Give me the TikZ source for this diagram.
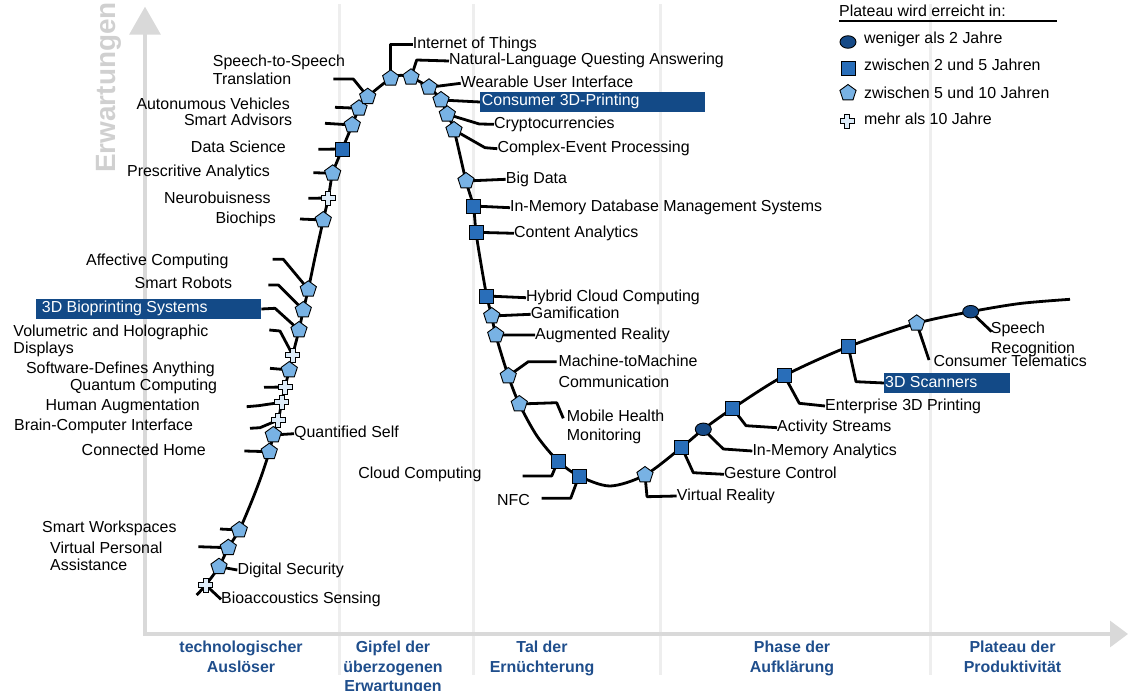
\documentclass[tikz,border=0pt]{standalone}
\usepackage{fontspec}
\setmainfont{Liberation Sans}
\usepackage{tikz}
\usetikzlibrary{arrows.meta, shapes.geometric, backgrounds}

\definecolor{circblue}{RGB}{22,74,135}
\definecolor{sqblue}{RGB}{41,110,185}
\definecolor{pentblue}{RGB}{120,178,228}
\definecolor{plusblue}{RGB}{220,235,248}
\definecolor{boxblue}{RGB}{19,74,135}
\definecolor{phaseblue}{RGB}{31,78,140}
\definecolor{axisgray}{RGB}{217,217,217}
\definecolor{sepgray}{RGB}{238,238,238}
\definecolor{titlegray}{RGB}{208,208,208}

\begin{document}
\begin{tikzpicture}[x=1bp, y=-1bp, font=\fontsize{16}{18.5}\selectfont,
        lbl/.style={inner sep=0pt, text height=11.5bp, text depth=3.5bp},
        mlbl/.style={inner sep=0pt, align=left, anchor=north west},
        lead/.style={line width=2.8bp, line join=round},
        mcirc/.style={ellipse, draw, line width=0.9bp, fill=circblue, minimum width=16bp, minimum height=12.5bp, inner sep=0pt},
        msq/.style={rectangle, draw, line width=0.9bp, fill=sqblue, minimum size=14bp, inner sep=0pt},
        mpent/.style={regular polygon, regular polygon sides=5, draw, line width=0.9bp, fill=pentblue, minimum size=17bp, inner sep=0pt},
        mplus/.style={rectangle, minimum size=17bp, inner sep=0pt,
            path picture={\draw[fill=plusblue, line width=0.9bp, shift={(path picture bounding box.center)}]
                (-2.6bp,-7bp) -- (2.6bp,-7bp) -- (2.6bp,-2.6bp) -- (7bp,-2.6bp) -- (7bp,2.6bp) -- (2.6bp,2.6bp)
                -- (2.6bp,7bp) -- (-2.6bp,7bp) -- (-2.6bp,2.6bp) -- (-7bp,2.6bp) -- (-7bp,-2.6bp) -- (-2.6bp,-2.6bp) -- cycle;}},
        hbox/.style={fill=boxblue, minimum height=19.4bp, inner sep=0pt, anchor=west},
        phase/.style={anchor=north, align=center, inner sep=0pt, text=phaseblue, font=\fontsize{16}{19.5}\selectfont\bfseries}]
    \useasboundingbox (0,0) rectangle (1128,691);

    % axis title and phases
    \node[rotate=90, anchor=base west, inner sep=0pt, text=titlegray, font=\fontsize{28}{30}\selectfont\bfseries] (ytitle) at (115,173) {Erwartungen};
    \node[phase] (ph1) at (241,641) {technologischer\\Auslöser};
    \node[phase] (ph2) at (393,641) {Gipfel der\\überzogenen\\Erwartungen};
    \node[phase] (ph3) at (542,641) {Tal der\\Ernüchterung};
    \node[phase] (ph4) at (792,641) {Phase der\\Aufklärung};
    \node[phase] (ph5) at (1012.5,641) {Plateau der\\Produktivität};

    % legend
    \node[lbl, anchor=base west] (legt) at (839,16.7) {Plateau wird erreicht in:};
    \draw[line width=1.6bp] ([yshift=-4.3bp]legt.base west) -- ++(218,0);
    \node[mcirc] (leg1) at (848,42) {};
    \node[msq] (leg2) at (848,68) {};
    \node[mpent] (leg3) at (848,93) {};
    \node[mplus] (leg4) at (847,121) {};
    \node[lbl, anchor=base west] (legl1) at (864,44) {weniger als 2 Jahre};
    \node[lbl, anchor=base west] (legl2) at (864,71) {zwischen 2 und 5 Jahren};
    \node[lbl, anchor=base west] (legl3) at (864,98.3) {zwischen 5 und 10 Jahren};
    \node[lbl, anchor=base west] (legl4) at (864,125) {mehr als 10 Jahre};

    % markers on the curve
    \coordinate (cstart) at (196.7,595);
    \node[mplus] (bas-m) at (205.7,585) {};
    \node[mpent] (dsec-m) at (219,566.7) {};
    \node[mpent] (vpa-m) at (228.3,547.7) {};
    \node[mpent] (sw-m) at (239.3,530) {};
    \node[mpent] (ch-m) at (269.3,451.7) {};
    \node[mpent] (qs-m) at (273.3,435) {};
    \node[mplus] (bci-m) at (278.3,420) {};
    \node[mplus] (ha-m) at (281.7,402.3) {};
    \node[mplus] (qc-m) at (285,387) {};
    \node[mpent] (sda-m) at (289.3,370) {};
    \node[mplus] (vol-m) at (292.7,355) {};
    \node[mpent] (bio-m) at (299,330) {};
    \node[mpent] (sr-m) at (303.3,310) {};
    \node[mpent] (ac-m) at (308.3,289.3) {};
    \node[mpent] (bc-m) at (323.3,220) {};
    \node[mplus] (nb-m) at (328.3,198) {};
    \node[mpent] (pa-m) at (332.7,173.3) {};
    \node[msq] (ds-m) at (342.3,149) {};
    \node[mpent] (sa-m) at (352.3,125) {};
    \node[mpent] (av-m) at (359,108.3) {};
    \node[mpent] (sts-m) at (367.7,96.7) {};
    \node[mpent] (iot-m) at (390.7,78.3) {};
    \node[mpent] (nl-m) at (411,77.3) {};
    \node[mpent] (wui-m) at (429,87.3) {};
    \node[mpent] (c3d-m) at (441,100) {};
    \node[mpent] (cc-m) at (447.3,114.3) {};
    \node[mpent] (cep-m) at (454,130) {};
    \node[mpent] (bd-m) at (466,181) {};
    \node[msq] (imdb-m) at (473.3,206) {};
    \node[msq] (ca-m) at (476,232.3) {};
    \node[msq] (hcc-m) at (486.7,296) {};
    \node[mpent] (gam-m) at (491.7,316) {};
    \node[mpent] (ar-m) at (495.7,335) {};
    \node[mpent] (m2m-m) at (508.3,376) {};
    \node[mpent] (mhm-m) at (519.3,404) {};
    \node[msq] (clc-m) at (558,461) {};
    \node[msq] (nfc-m) at (579,476) {};
    \node[mpent] (vr-m) at (645,475) {};
    \node[msq] (gc-m) at (681.7,447.3) {};
    \node[mcirc] (ima-m) at (703.3,429.3) {};
    \node[msq] (as-m) at (732.7,408.3) {};
    \node[msq] (e3d-m) at (784.3,375.7) {};
    \node[msq] (s3d-m) at (848.3,346.7) {};
    \node[mpent] (ct-m) at (916.7,323.3) {};
    \node[mcirc] (spr-m) at (970.7,311.7) {};
    \coordinate (cend) at (1070,299.3);

    % labels, left side
    \node[mlbl, font=\fontsize{16}{18.3}\selectfont] (sts) at (212.7,55) {Speech-to-Speech\\Translation};
    \node[lbl, anchor=base east] (av) at (290,109.3) {Autonumous Vehicles};
    \node[lbl, anchor=base east] (sa) at (292.3,126) {Smart Advisors};
    \node[lbl, anchor=base east] (ds) at (286,152.7) {Data Science};
    \node[lbl, anchor=base east] (pa) at (270,176.7) {Prescritive Analytics};
    \node[lbl, anchor=base east] (nb) at (270.7,203.3) {Neurobuisness};
    \node[lbl, anchor=base east] (bc) at (276,223.3) {Biochips};
    \node[lbl, anchor=base east] (ac) at (228.7,265) {Affective Computing};
    \node[lbl, anchor=base east] (sr) at (232.3,288.3) {Smart Robots};
    \node[hbox, minimum width=225bp] (biobox) at (36,309) {};
    \node[lbl, anchor=base west, text=white] (bio) at (41.7,312.7) {3D Bioprinting Systems};
    \node[mlbl, font=\fontsize{16}{16.7}\selectfont] (vol) at (13.3,325) {Volumetric and Holographic\\Displays};
    \node[lbl, anchor=base east] (sda) at (215,373.3) {Software-Defines Anything};
    \node[lbl, anchor=base east] (qc) at (217.3,390) {Quantum Computing};
    \node[lbl, anchor=base east] (ha) at (200,410.7) {Human Augmentation};
    \node[lbl, anchor=base east] (bci) at (193.3,430.7) {Brain-Computer Interface};
    \node[lbl, anchor=base west] (qs) at (294,437.7) {Quantified Self};
    \node[lbl, anchor=base east] (ch) at (206,455) {Connected Home};
    \node[lbl, anchor=base east] (sw) at (176.7,532.7) {Smart Workspaces};
    \node[mlbl, font=\fontsize{16}{17.3}\selectfont] (vpa) at (50,541.7) {Virtual Personal\\Assistance};
    \node[lbl, anchor=base west] (dsec) at (237.3,574) {Digital Security};
    \node[lbl, anchor=base west] (bas) at (221,603.3) {Bioaccoustics Sensing};

    % labels, right side
    \node[lbl, anchor=base west] (iot) at (412.7,48.3) {Internet of Things};
    \node[lbl, anchor=base west] (nl) at (449,65) {Natural-Language Questing Answering};
    \node[lbl, anchor=base west] (wui) at (460.7,87.3) {Wearable User Interface};
    \node[hbox, minimum width=225bp] (c3dbox) at (480,102) {};
    \node[lbl, anchor=base west, text=white] (c3d) at (481.7,105.7) {Consumer 3D-Printing};
    \node[lbl, anchor=base west] (cc) at (494,128.3) {Cryptocurrencies};
    \node[lbl, anchor=base west] (cep) at (497.3,152.7) {Complex-Event Processing};
    \node[lbl, anchor=base west] (bd) at (505.7,183.3) {Big Data};
    \node[lbl, anchor=base west] (imdb) at (510,211.7) {In-Memory Database Management Systems};
    \node[lbl, anchor=base west] (ca) at (514,237.3) {Content Analytics};
    \node[lbl, anchor=base west] (hcc) at (526,301.7) {Hybrid Cloud Computing};
    \node[lbl, anchor=base west] (gam) at (530.7,318.3) {Gamification};
    \node[lbl, anchor=base west] (ar) at (535,339) {Augmented Reality};
    \node[mlbl, font=\fontsize{16}{20.7}\selectfont] (m2m) at (558.3,355) {Machine-toMachine\\Communication};
    \node[mlbl, font=\fontsize{16}{20}\selectfont] (mhm) at (566.7,409.3) {Mobile Health\\Monitoring};
    \node[lbl, anchor=base east] (clc) at (481.7,478.3) {Cloud Computing};
    \node[lbl, anchor=base east] (nfc) at (530,505) {NFC};
    \node[lbl, anchor=base west] (vr) at (676.7,500) {Virtual Reality};
    \node[lbl, anchor=base west] (gc) at (724,478.3) {Gesture Control};
    \node[lbl, anchor=base west] (ima) at (752.3,455) {In-Memory Analytics};
    \node[lbl, anchor=base west] (as) at (777,431.7) {Activity Streams};
    \node[lbl, anchor=base west] (e3d) at (825,410) {Enterprise 3D Printing};
    \node[hbox, minimum width=126bp] (s3dbox) at (884,383) {};
    \node[lbl, anchor=base west, text=white] (s3d) at (885,387.3) {3D Scanners};
    \node[lbl, anchor=base west] (ct) at (933.3,366) {Consumer Telematics};
    \node[mlbl, font=\fontsize{16}{20}\selectfont] (spr) at (990.7,321.7) {Speech\\Recognition};

    \begin{scope}[on background layer]
        % phase separators and axes
        \foreach \sx in {339.5, 473.5, 660, 930}
            \draw[sepgray, line width=3bp] (\sx,4) -- (\sx,675);
        \draw[axisgray, line width=3.3bp, {Triangle[length=28bp, width=31bp]}-{Triangle[length=18bp, width=26bp]}]
            (145,6.7) -- (145,634) -- (1128,634);

        % hype curve
        \draw[line width=2.8bp] plot[smooth, tension=0.5] coordinates {
            (cstart) (bas-m.center) (dsec-m.center) (vpa-m.center) (sw-m.center) (251,503) (261,477)
            (ch-m.center) (qs-m.center) (bci-m.center) (ha-m.center) (qc-m.center) (sda-m.center)
            (vol-m.center) (bio-m.center) (sr-m.center) (ac-m.center) (315.5,255) (bc-m.center)
            (nb-m.center) (pa-m.center) (ds-m.center) (sa-m.center) (av-m.center) (sts-m.center)
            (iot-m.center) (401,75.3) (nl-m.center) (wui-m.center) (c3d-m.center) (cc-m.center)
            (cep-m.center) (bd-m.center) (imdb-m.center) (ca-m.center) (481,264) (hcc-m.center)
            (gam-m.center) (ar-m.center) (m2m-m.center) (mhm-m.center) (537,436) (clc-m.center)
            (nfc-m.center) (610,486) (vr-m.center) (gc-m.center) (ima-m.center) (as-m.center)
            (e3d-m.center) (s3d-m.center) (ct-m.center) (spr-m.center) (1020,303.5) (cend)};

        % leader lines, left side
        \draw[lead] (sts-m.center) -- (353.3,79) -- (333.3,79);
        \draw[lead] (av-m.center) -- (335,107.3);
        \draw[lead] (sa-m.center) -- (325,123.3);
        \draw[lead] (ds-m.center) -- (318.3,149.3);
        \draw[lead] (pa-m.center) -- (313.3,172.7);
        \draw[lead] (nb-m.center) -- (308.3,198.3);
        \draw[lead] (bc-m.center) -- (300,219);
        \draw[lead] (ac-m.center) -- (283.3,259.3) -- (272.7,259.3);
        \draw[lead] (sr-m.center) -- (278.3,285) -- (268.3,285);
        \draw[lead] (bio-m.center) -- (275,308.3) -- (biobox.east);
        \draw[lead] (vol-m.center) -- (280,331) -- (269.3,330);
        \draw[lead] (sda-m.center) -- (270,368.3);
        \draw[lead] (qc-m.center) -- (264,387.3);
        \draw[lead] (ha-m.center) -- (258.3,405.7) -- (246.7,406.7);
        \draw[lead] (bci-m.center) -- (260,427.7) -- (250,428.3);
        \draw[lead] (qs-m.center) -- (qs.west);
        \draw[lead] (ch-m.center) -- (244.3,451);
        \draw[lead] (sw-m.center) -- (220,529);
        \draw[lead] (vpa-m.center) -- (198.3,546.7);
        \draw[lead] (dsec-m.center) -- (dsec.west);
        \draw[lead] (bas-m.center) -- (bas.west);

        % leader lines, right side
        \draw[lead] (iot-m.center) |- (iot.west);
        \draw[lead] (nl-m.center) -- (416.7,60) -- (nl.west);
        \draw[lead] (wui-m.center) -- (wui.west);
        \draw[lead] (c3d-m.center) -- (c3dbox.west);
        \draw[lead] (cc-m.center) -- (479.3,124) -- (cc.west);
        \draw[lead] (cep-m.center) -- (485,147.7) -- (cep.west);
        \draw[lead] (bd-m.center) -- (bd.west);
        \draw[lead] (imdb-m.center) -- (imdb.west);
        \draw[lead] (ca-m.center) -- (ca.west);
        \draw[lead] (hcc-m.center) -- (hcc.west);
        \draw[lead] (gam-m.center) -- (gam.west);
        \draw[lead] (ar-m.center) -- (ar.west);
        \draw[lead] (m2m-m.center) -- (528.3,361.7) -- (556.7,361.7);
        \draw[lead] (mhm-m.center) -- (556.7,402.7) -- (563.3,418.3);
        \draw[lead] (clc-m.center) -- (551.7,476) -- (522.7,476);
        \draw[lead] (nfc-m.center) -- (570.7,498.3) -- (541.7,498.3);
        \draw[lead] (vr-m.center) -- (647,496.7) -- (vr.west);
        \draw[lead] (gc-m.center) -- (693.3,472.7) -- (gc.west);
        \draw[lead] (ima-m.center) -- (723.3,449) -- (ima.west);
        \draw[lead] (as-m.center) -- (746,425.7) -- (as.west);
        \draw[lead] (e3d-m.center) -- (799.3,403.3) -- (e3d.west);
        \draw[lead] (s3d-m.center) -- (856,381.7) -- (s3dbox.west);
        \draw[lead] (ct-m.center) -- (929,360);
        \draw[lead] (spr-m.center) -- (991.7,331.7);
    \end{scope}
\end{tikzpicture}
\end{document}
